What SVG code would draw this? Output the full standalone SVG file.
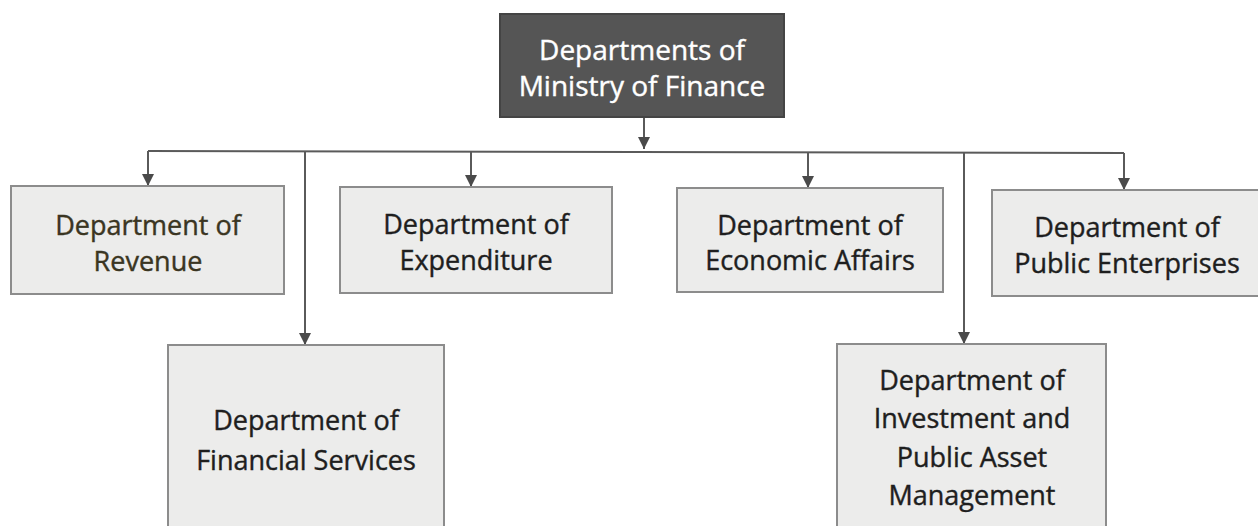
<svg xmlns="http://www.w3.org/2000/svg" width="1258" height="526" viewBox="0 0 1258 526">
<style>
.box{fill:#ececeb;stroke:#8c8c8c;stroke-width:2}
.t{font-family:"Open Sans","Liberation Sans",sans-serif;font-size:27px;fill:#1e1e1e;text-anchor:middle;stroke:#1e1e1e;stroke-width:0.4}
.w{fill:#ffffff;stroke:#ffffff;font-size:28px}
.ln{stroke:#5a5a5a;stroke-width:2;fill:none}
</style>
<defs>
<marker id="ah" viewBox="0 0 10 10" refX="10" refY="5" markerWidth="6" markerHeight="6" markerUnits="strokeWidth" orient="auto">
<path d="M0,0 L10,5 L0,10 z" fill="#4a4a4a"/>
</marker>
</defs>
<rect width="1258" height="526" fill="#ffffff"/>
<g id="connectors">
<line class="ln" x1="644" y1="117" x2="644" y2="149" marker-end="url(#ah)"/>
<path class="ln" d="M148,151 L1124,153"/>
<line class="ln" x1="148" y1="151" x2="148" y2="186" marker-end="url(#ah)"/>
<line class="ln" x1="305" y1="151" x2="305" y2="345" marker-end="url(#ah)"/>
<line class="ln" x1="471" y1="151" x2="471" y2="187" marker-end="url(#ah)"/>
<line class="ln" x1="808" y1="152" x2="808" y2="188" marker-end="url(#ah)"/>
<line class="ln" x1="964" y1="152" x2="964" y2="344" marker-end="url(#ah)"/>
<line class="ln" x1="1124" y1="153" x2="1124" y2="190" marker-end="url(#ah)"/>
</g>
<g id="root">
<rect x="500" y="14" width="284" height="103" fill="#555555" stroke="#444" stroke-width="2"/>
<text class="t w" x="642" y="60">Departments of</text>
<text class="t w" x="642" y="96">Ministry of Finance</text>
</g>
<g id="revenue">
<rect class="box" x="11" y="186" width="273" height="108"/>
<text class="t" x="148" y="235" style="fill:#3a3522;stroke:#3a3522">Department of</text>
<text class="t" x="148" y="271" style="fill:#3a3522;stroke:#3a3522">Revenue</text>
</g>
<g id="financial">
<rect class="box" x="168" y="345" width="276" height="190"/>
<text class="t" x="306" y="430">Department of</text>
<text class="t" x="306" y="470">Financial Services</text>
</g>
<g id="expenditure">
<rect class="box" x="340" y="187" width="272" height="106"/>
<text class="t" x="476" y="234">Department of</text>
<text class="t" x="476" y="270">Expenditure</text>
</g>
<g id="economic">
<rect class="box" x="677" y="188" width="266" height="104"/>
<text class="t" x="810" y="235">Department of</text>
<text class="t" x="810" y="270">Economic Affairs</text>
</g>
<g id="investment">
<rect class="box" x="837" y="344" width="269" height="190"/>
<text class="t" x="972" y="390">Department of</text>
<text class="t" x="972" y="428">Investment and</text>
<text class="t" x="972" y="467">Public Asset</text>
<text class="t" x="972" y="505">Management</text>
</g>
<g id="public">
<rect class="box" x="992" y="190" width="275" height="106"/>
<text class="t" x="1127" y="237">Department of</text>
<text class="t" x="1127" y="273">Public Enterprises</text>
</g>
</svg>
